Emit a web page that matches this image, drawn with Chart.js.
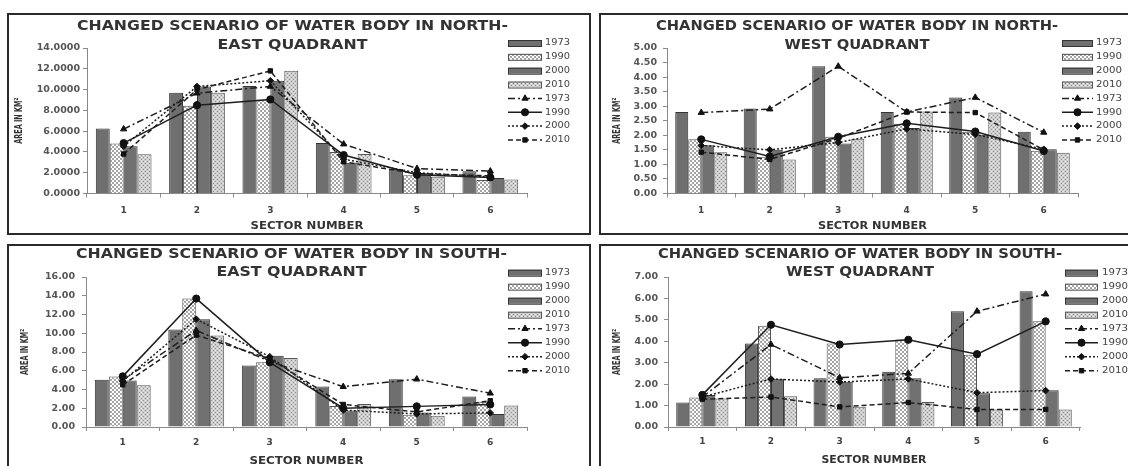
<!DOCTYPE html>
<html><head><meta charset="utf-8">
<script src="https://cdn.jsdelivr.net/npm/chart.js@4.4.1/dist/chart.umd.min.js"></script>
<style>
body{margin:0;background:#fff;width:1128px;height:466px;overflow:hidden;position:relative}
.box{position:absolute;border:2px solid #2a2a2a;box-sizing:border-box}
canvas{position:absolute}
</style></head><body>
<div class="box" style="left:7px;top:13px;width:584px;height:222px"></div>
<div class="box" style="left:599px;top:13px;width:540px;height:222px"></div>
<div class="box" style="left:7px;top:244px;width:584px;height:232px"></div>
<div class="box" style="left:599px;top:244px;width:540px;height:232px"></div>
<canvas id="ne" width="580" height="218" style="left:9px;top:15px"></canvas>
<canvas id="nw" width="527" height="218" style="left:601px;top:15px"></canvas>
<canvas id="se" width="580" height="220" style="left:9px;top:246px"></canvas>
<canvas id="sw" width="527" height="220" style="left:601px;top:246px"></canvas>
<script>
// ---------- data ----------
const sectorLabels = ['1','2','3','4','5','6'];
const yearLabels = ['1973','1990','2000','2010'];

// North-East quadrant
const neBars1973 = [6.25, 9.70, 10.35, 4.85, 2.35, 2.15];
const neBars1990 = [4.80, 8.45, 9.05, 4.00, 1.75, 1.30];
const neBars2000 = [4.55, 10.30, 10.85, 2.95, 1.95, 1.50];
const neBars2010 = [3.78, 9.70, 11.80, 3.80, 1.60, 1.35];
const neLine1973 = [6.20, 9.65, 10.30, 4.75, 2.40, 2.15];
const neLine1990 = [4.85, 8.50, 9.05, 3.70, 1.80, 1.55];
const neLine2000 = [4.55, 10.30, 10.85, 3.30, 2.00, 1.60];
const neLine2010 = [3.80, 10.00, 11.80, 3.05, 1.90, 1.70];

// North-West quadrant
const nwBars1973 = [2.80, 2.92, 4.37, 2.80, 3.30, 2.12];
const nwBars1990 = [1.86, 1.25, 1.95, 2.40, 2.12, 1.47];
const nwBars2000 = [1.66, 1.50, 1.72, 2.25, 2.02, 1.52];
const nwBars2010 = [1.42, 1.17, 1.88, 2.82, 2.78, 1.40];
const nwLine1973 = [2.78, 2.90, 4.37, 2.80, 3.30, 2.10];
const nwLine1990 = [1.86, 1.27, 1.95, 2.41, 2.13, 1.46];
const nwLine2000 = [1.65, 1.50, 1.75, 2.22, 2.03, 1.52];
const nwLine2010 = [1.42, 1.17, 1.90, 2.80, 2.78, 1.50];

// South-East quadrant
const seBars1973 = [5.05, 10.40, 6.55, 4.32, 5.10, 3.25];
const seBars1990 = [5.40, 13.70, 6.90, 2.25, 1.30, 2.70];
const seBars2000 = [4.95, 11.50, 7.60, 1.75, 1.55, 1.40];
const seBars2010 = [4.45, 9.75, 7.35, 2.45, 1.20, 2.30];
const seLine1973 = [5.00, 10.30, 7.00, 4.30, 5.10, 3.60];
const seLine1990 = [5.40, 13.70, 6.90, 2.00, 2.20, 2.40];
const seLine2000 = [4.90, 11.50, 7.50, 1.80, 1.40, 1.50];
const seLine2010 = [4.50, 9.80, 7.30, 2.40, 1.60, 2.80];

// South-West quadrant
const swBars1973 = [1.14, 3.90, 2.27, 2.58, 5.40, 6.34];
const swBars1990 = [1.38, 4.73, 3.90, 4.08, 3.37, 4.93];
const swBars2000 = [1.49, 2.25, 2.11, 2.27, 1.57, 1.72];
const swBars2010 = [1.33, 1.44, 0.94, 1.17, 0.82, 0.82];
const swLine1973 = [1.40, 3.85, 2.30, 2.50, 5.40, 6.20];
const swLine1990 = [1.50, 4.77, 3.85, 4.07, 3.40, 4.93];
const swLine2000 = [1.40, 2.24, 2.10, 2.24, 1.60, 1.70];
const swLine2010 = [1.30, 1.40, 0.94, 1.14, 0.82, 0.82];

// axis ranges / tick labels
const neAxis = {max: 14, step: 2, decimals: 4};
const nwAxis = {max: 5, step: 0.5, decimals: 2};
const seAxis = {max: 16, step: 2, decimals: 2};
const swAxis = {max: 7, step: 1, decimals: 2};

const neTitle = ['CHANGED SCENARIO OF WATER BODY IN NORTH-', 'EAST QUADRANT'];
const nwTitle = ['CHANGED SCENARIO OF WATER BODY IN NORTH-', 'WEST QUADRANT'];
const seTitle = ['CHANGED SCENARIO OF WATER BODY IN SOUTH-', 'EAST QUADRANT'];
const swTitle = ['CHANGED SCENARIO OF WATER BODY IN SOUTH-', 'WEST QUADRANT'];
const xTitle = 'SECTOR NUMBER';
const yTitle = 'AREA IN KM\u00B2';

// ---------- styles ----------
function makePattern(kind){
  const c = document.createElement('canvas');
  c.width = 4; c.height = 4;
  const x = c.getContext('2d');
  if (kind === 'cross'){
    x.fillStyle = '#ffffff'; x.fillRect(0,0,4,4);
    x.fillStyle = '#a4a4a4';
    for (let i=0;i<4;i++){ x.fillRect(i,i,1,1); x.fillRect(3-i,i,1,1); }
  } else {
    x.fillStyle = '#cdcdcd'; x.fillRect(0,0,4,4);
    x.fillStyle = '#8c8c8c';
    x.fillRect(0,0,1,1); x.fillRect(2,2,1,1);
    x.fillStyle = '#ececec';
    x.fillRect(2,0,1,1); x.fillRect(0,2,1,1);
  }
  return x.createPattern(c, 'repeat');
}
const patCross = makePattern('cross');
const patDots = makePattern('dots');
const barStyles = [
  {bg:'#6f6f6f', border:'#333333'},
  {bg:patCross, border:'#555555'},
  {bg:'#717171', border:'#333333'},
  {bg:patDots, border:'#555555'}
];
const lineStyles = [
  {dash:[7,3,2,3], pt:'triangle', r:3.6},
  {dash:[], pt:'circle', r:3.6},
  {dash:[2,2], pt:'rectRot', r:3.3},
  {dash:[5,3], pt:'rect', r:3.1}
];

function fitText(ctx, txt, x, y, w, font, align){
  ctx.save();
  ctx.font = font;
  const m = ctx.measureText(txt).width;
  ctx.translate(x, y);
  ctx.scale(w / m, 1);
  ctx.textBaseline = 'middle';
  ctx.textAlign = align || 'center';
  ctx.fillText(txt, 0, 0);
  ctx.restore();
}

function buildChart(cfg){
  const ds = [];
  cfg.bars.forEach((arr,i)=>ds.push({
    type:'bar', label:yearLabels[i], data:arr,
    backgroundColor:barStyles[i].bg, borderColor:barStyles[i].border, borderWidth:1,
    categoryPercentage:0.76, barPercentage:1.0, order:2
  }));
  cfg.lines.forEach((arr,i)=>ds.push({
    type:'line', label:yearLabels[i], data:arr,
    borderColor:'#1e1e1e', borderWidth:1.5, borderDash:lineStyles[i].dash,
    pointStyle:lineStyles[i].pt, pointRadius:lineStyles[i].r,
    pointBackgroundColor:'#111', pointBorderColor:'#111', pointBorderWidth:1,
    fill:false, tension:0, order:1
  }));

  const textPlugin = {
    id:'panelText',
    afterDraw(chart){
      const ctx = chart.ctx, ca = chart.chartArea;
      ctx.save();
      ctx.fillStyle = '#333';
      cfg.title.forEach((t,i)=>fitText(ctx, t, cfg.tX, cfg.tY[i], cfg.tW[i], 'bold 13.5px "DejaVu Sans"'));
      fitText(ctx, xTitle, (ca.left+ca.right)/2, cfg.xtY, cfg.xtW, 'bold 10px "DejaVu Sans"');
      ctx.save();
      ctx.translate(cfg.ytX, (ca.top+ca.bottom)/2);
      ctx.rotate(-Math.PI/2);
      fitText(ctx, yTitle, 0, 0, 46, 'bold 10.5px "DejaVu Sans"');
      ctx.restore();
      // legend
      chart.data.datasets.forEach((d,i)=>{
        const y = cfg.lgY + i*cfg.lgStep;
        const x0 = cfg.lgX, w = cfg.lgW;
        if (d.type === 'bar'){
          ctx.fillStyle = d.backgroundColor;
          ctx.fillRect(x0, y-3, w, 6);
          ctx.strokeStyle = d.borderColor; ctx.lineWidth = 1;
          ctx.strokeRect(x0+0.5, y-3+0.5, w-1, 6);
        } else {
          const ls = lineStyles[i-4];
          ctx.strokeStyle = '#1e1e1e'; ctx.lineWidth = 1.5;
          ctx.setLineDash(ls.dash);
          ctx.beginPath(); ctx.moveTo(x0, y); ctx.lineTo(x0+w, y); ctx.stroke();
          ctx.setLineDash([]);
          ctx.fillStyle = '#111'; ctx.strokeStyle = '#111'; ctx.lineWidth = 1;
          Chart.helpers.drawPoint(ctx, {pointStyle:ls.pt, radius:ls.r, rotation:0, borderWidth:1}, x0+w/2, y);
        }
        ctx.fillStyle = '#444';
        fitText(ctx, d.label, cfg.lgTX, y, cfg.lgTW, '9px "DejaVu Sans"', 'left');
      });
      ctx.restore();
    }
  };

  const tickFont = {family:'DejaVu Sans', size:9.5, weight:'bold'};
  new Chart(document.getElementById(cfg.id), {
    type:'bar',
    data:{labels:sectorLabels, datasets:ds},
    options:{
      responsive:false, animation:false,
      layout:{padding:{top:cfg.top, right:cfg.right, left:0, bottom:0}},
      plugins:{legend:{display:false}, tooltip:{enabled:false}, title:{display:false}},
      scales:{
        x:{
          grid:{display:true, drawOnChartArea:false, drawTicks:true, tickLength:4, color:'#8a8a8a', offset:true},
          border:{display:true, color:'#8a8a8a', width:1},
          ticks:{font:{family:'DejaVu Sans', size:9, weight:'bold'}, color:'#444', padding:cfg.xPad, maxRotation:0},
          afterFit:s=>{s.height = cfg.xH;}
        },
        y:{
          min:0, max:cfg.axis.max,
          ticks:{stepSize:cfg.axis.step, callback:v=>Number(v).toFixed(cfg.axis.decimals), font:tickFont, color:'#555', padding:cfg.yPad},
          grid:{display:true, drawOnChartArea:false, drawTicks:true, tickLength:4, color:'#8a8a8a'},
          border:{display:true, color:'#8a8a8a', width:1},
          afterFit:s=>{s.width = cfg.yW;}
        }
      }
    },
    plugins:[textPlugin]
  });
}

buildChart({id:'ne', bars:[neBars1973,neBars1990,neBars2000,neBars2010], lines:[neLine1973,neLine1990,neLine2000,neLine2010],
  axis:neAxis, title:neTitle, top:33, right:62, yW:78, xH:39.5, xPad:8, yPad:3,
  tX:283.5, tY:[11,30], tW:[431,150], xtY:211.5, xtW:113, ytX:10,
  lgX:499, lgW:34, lgTX:536, lgTW:25, lgY:28, lgStep:13.85});
buildChart({id:'nw', bars:[nwBars1973,nwBars1990,nwBars2000,nwBars2010], lines:[nwLine1973,nwLine1990,nwLine2000,nwLine2010],
  axis:nwAxis, title:nwTitle, top:33, right:50, yW:66, xH:39.5, xPad:8, yPad:6,
  tX:256, tY:[11,30], tW:[402,145], xtY:211.5, xtW:109, ytX:16,
  lgX:461, lgW:31, lgTX:495, lgTW:26, lgY:28, lgStep:13.85});
buildChart({id:'se', bars:[seBars1973,seBars1990,seBars2000,seBars2010], lines:[seLine1973,seLine1990,seLine2000,seLine2010],
  axis:seAxis, title:seTitle, top:31, right:62, yW:77, xH:39, xPad:6, yPad:7,
  tX:282.5, tY:[8.5,26.5], tW:[431,150], xtY:215, xtW:114, ytX:16,
  lgX:499, lgW:34, lgTX:536, lgTW:25, lgY:26.7, lgStep:14});
buildChart({id:'sw', bars:[swBars1973,swBars1990,swBars2000,swBars2010], lines:[swLine1973,swLine1990,swLine2000,swLine2010],
  axis:swAxis, title:swTitle, top:31, right:48, yW:67, xH:39, xPad:5, yPad:6,
  tX:259, tY:[8.5,26.5], tW:[404,148], xtY:214, xtW:105, ytX:16,
  lgX:464, lgW:33, lgTX:501, lgTW:26, lgY:26.7, lgStep:14});
</script>
</body></html>
